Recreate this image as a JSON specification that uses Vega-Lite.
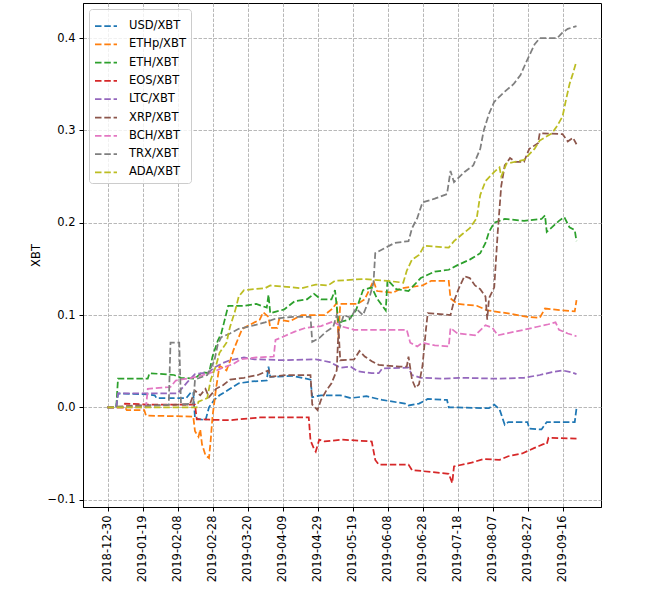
{
  "$schema": "https://vega.github.io/schema/vega-lite/v6.json",
  "autosize": "none",
  "padding": {"left": 83, "top": 3, "right": 66, "bottom": 83},
  "width": 518,
  "height": 504,
  "background": "white",
  "config": {
    "font": "DejaVu Sans",
    "view": {"stroke": "#000000", "strokeWidth": 1},
    "axis": {
      "domainColor": "#000000",
      "tickColor": "#000000",
      "tickSize": 4,
      "labelPadding": 4,
      "labelFontSize": 11.5,
      "labelColor": "#000000",
      "labelFont": "DejaVu Sans",
      "titleFont": "DejaVu Sans",
      "titleFontSize": 11.5,
      "titleFontWeight": "normal",
      "titleColor": "#000000",
      "gridColor": "#b0b0b0",
      "gridDash": [3.5, 1.5],
      "gridWidth": 0.9
    }
  },
  "data": {"values": [
    {"s":"USD/XBT","t":"2018-12-30","v":0},
    {"s":"USD/XBT","t":"2019-01-04","v":0},
    {"s":"USD/XBT","t":"2019-01-05","v":0.015},
    {"s":"USD/XBT","t":"2019-01-22","v":0.014},
    {"s":"USD/XBT","t":"2019-01-26","v":0.013},
    {"s":"USD/XBT","t":"2019-01-27","v":0.010},
    {"s":"USD/XBT","t":"2019-02-13","v":0.010},
    {"s":"USD/XBT","t":"2019-02-16","v":0.017},
    {"s":"USD/XBT","t":"2019-02-17","v":0.016},
    {"s":"USD/XBT","t":"2019-02-18","v":-0.012},
    {"s":"USD/XBT","t":"2019-02-24","v":-0.014},
    {"s":"USD/XBT","t":"2019-02-26","v":0.000},
    {"s":"USD/XBT","t":"2019-03-01","v":0.008},
    {"s":"USD/XBT","t":"2019-03-04","v":0.013},
    {"s":"USD/XBT","t":"2019-03-10","v":0.020},
    {"s":"USD/XBT","t":"2019-03-15","v":0.026},
    {"s":"USD/XBT","t":"2019-03-22","v":0.028},
    {"s":"USD/XBT","t":"2019-03-31","v":0.029},
    {"s":"USD/XBT","t":"2019-04-01","v":0.044},
    {"s":"USD/XBT","t":"2019-04-02","v":0.033},
    {"s":"USD/XBT","t":"2019-04-15","v":0.034},
    {"s":"USD/XBT","t":"2019-04-25","v":0.030},
    {"s":"USD/XBT","t":"2019-04-26","v":0.011},
    {"s":"USD/XBT","t":"2019-05-01","v":0.013},
    {"s":"USD/XBT","t":"2019-05-12","v":0.013},
    {"s":"USD/XBT","t":"2019-05-18","v":0.010},
    {"s":"USD/XBT","t":"2019-05-27","v":0.012},
    {"s":"USD/XBT","t":"2019-06-05","v":0.008},
    {"s":"USD/XBT","t":"2019-06-18","v":0.004},
    {"s":"USD/XBT","t":"2019-06-20","v":0.002},
    {"s":"USD/XBT","t":"2019-06-26","v":0.004},
    {"s":"USD/XBT","t":"2019-07-01","v":0.009},
    {"s":"USD/XBT","t":"2019-07-12","v":0.008},
    {"s":"USD/XBT","t":"2019-07-13","v":0.000},
    {"s":"USD/XBT","t":"2019-08-05","v":-0.001},
    {"s":"USD/XBT","t":"2019-08-08","v":0.003},
    {"s":"USD/XBT","t":"2019-08-11","v":-0.002},
    {"s":"USD/XBT","t":"2019-08-14","v":-0.019},
    {"s":"USD/XBT","t":"2019-08-16","v":-0.016},
    {"s":"USD/XBT","t":"2019-08-27","v":-0.016},
    {"s":"USD/XBT","t":"2019-08-28","v":-0.023},
    {"s":"USD/XBT","t":"2019-09-04","v":-0.024},
    {"s":"USD/XBT","t":"2019-09-07","v":-0.016},
    {"s":"USD/XBT","t":"2019-09-23","v":-0.016},
    {"s":"USD/XBT","t":"2019-09-24","v":-0.001},

    {"s":"ETHp/XBT","t":"2018-12-30","v":0},
    {"s":"ETHp/XBT","t":"2019-01-09","v":0},
    {"s":"ETHp/XBT","t":"2019-01-10","v":-0.003},
    {"s":"ETHp/XBT","t":"2019-01-20","v":-0.003},
    {"s":"ETHp/XBT","t":"2019-01-21","v":-0.009},
    {"s":"ETHp/XBT","t":"2019-02-17","v":-0.010},
    {"s":"ETHp/XBT","t":"2019-02-18","v":-0.026},
    {"s":"ETHp/XBT","t":"2019-02-20","v":-0.032},
    {"s":"ETHp/XBT","t":"2019-02-21","v":-0.024},
    {"s":"ETHp/XBT","t":"2019-02-22","v":-0.040},
    {"s":"ETHp/XBT","t":"2019-02-24","v":-0.052},
    {"s":"ETHp/XBT","t":"2019-02-26","v":-0.055},
    {"s":"ETHp/XBT","t":"2019-02-27","v":-0.035},
    {"s":"ETHp/XBT","t":"2019-02-28","v":-0.010},
    {"s":"ETHp/XBT","t":"2019-03-02","v":0.020},
    {"s":"ETHp/XBT","t":"2019-03-04","v":0.045},
    {"s":"ETHp/XBT","t":"2019-03-08","v":0.040},
    {"s":"ETHp/XBT","t":"2019-03-10","v":0.050},
    {"s":"ETHp/XBT","t":"2019-03-12","v":0.062},
    {"s":"ETHp/XBT","t":"2019-03-15","v":0.076},
    {"s":"ETHp/XBT","t":"2019-03-17","v":0.085},
    {"s":"ETHp/XBT","t":"2019-03-22","v":0.090},
    {"s":"ETHp/XBT","t":"2019-03-27","v":0.095},
    {"s":"ETHp/XBT","t":"2019-03-29","v":0.103},
    {"s":"ETHp/XBT","t":"2019-04-01","v":0.098},
    {"s":"ETHp/XBT","t":"2019-04-02","v":0.086},
    {"s":"ETHp/XBT","t":"2019-04-06","v":0.086},
    {"s":"ETHp/XBT","t":"2019-04-07","v":0.095},
    {"s":"ETHp/XBT","t":"2019-04-13","v":0.093},
    {"s":"ETHp/XBT","t":"2019-04-20","v":0.100},
    {"s":"ETHp/XBT","t":"2019-05-03","v":0.100},
    {"s":"ETHp/XBT","t":"2019-05-07","v":0.106},
    {"s":"ETHp/XBT","t":"2019-05-10","v":0.113},
    {"s":"ETHp/XBT","t":"2019-05-11","v":0.075},
    {"s":"ETHp/XBT","t":"2019-05-12","v":0.112},
    {"s":"ETHp/XBT","t":"2019-05-22","v":0.112},
    {"s":"ETHp/XBT","t":"2019-05-26","v":0.117},
    {"s":"ETHp/XBT","t":"2019-05-31","v":0.137},
    {"s":"ETHp/XBT","t":"2019-06-02","v":0.126},
    {"s":"ETHp/XBT","t":"2019-06-11","v":0.124},
    {"s":"ETHp/XBT","t":"2019-06-16","v":0.129},
    {"s":"ETHp/XBT","t":"2019-06-28","v":0.132},
    {"s":"ETHp/XBT","t":"2019-07-03","v":0.137},
    {"s":"ETHp/XBT","t":"2019-07-13","v":0.137},
    {"s":"ETHp/XBT","t":"2019-07-14","v":0.118},
    {"s":"ETHp/XBT","t":"2019-07-18","v":0.112},
    {"s":"ETHp/XBT","t":"2019-07-29","v":0.110},
    {"s":"ETHp/XBT","t":"2019-08-04","v":0.105},
    {"s":"ETHp/XBT","t":"2019-08-15","v":0.102},
    {"s":"ETHp/XBT","t":"2019-08-27","v":0.098},
    {"s":"ETHp/XBT","t":"2019-09-03","v":0.097},
    {"s":"ETHp/XBT","t":"2019-09-06","v":0.107},
    {"s":"ETHp/XBT","t":"2019-09-16","v":0.105},
    {"s":"ETHp/XBT","t":"2019-09-23","v":0.104},
    {"s":"ETHp/XBT","t":"2019-09-24","v":0.116},

    {"s":"ETH/XBT","t":"2018-12-30","v":0},
    {"s":"ETH/XBT","t":"2019-01-04","v":0},
    {"s":"ETH/XBT","t":"2019-01-05","v":0.031},
    {"s":"ETH/XBT","t":"2019-01-22","v":0.031},
    {"s":"ETH/XBT","t":"2019-01-23","v":0.037},
    {"s":"ETH/XBT","t":"2019-02-06","v":0.035},
    {"s":"ETH/XBT","t":"2019-02-10","v":0.032},
    {"s":"ETH/XBT","t":"2019-02-18","v":0.031},
    {"s":"ETH/XBT","t":"2019-02-22","v":0.038},
    {"s":"ETH/XBT","t":"2019-02-26","v":0.037},
    {"s":"ETH/XBT","t":"2019-02-28","v":0.055},
    {"s":"ETH/XBT","t":"2019-03-03","v":0.072},
    {"s":"ETH/XBT","t":"2019-03-05","v":0.080},
    {"s":"ETH/XBT","t":"2019-03-07","v":0.095},
    {"s":"ETH/XBT","t":"2019-03-09","v":0.110},
    {"s":"ETH/XBT","t":"2019-03-18","v":0.110},
    {"s":"ETH/XBT","t":"2019-03-25","v":0.112},
    {"s":"ETH/XBT","t":"2019-03-31","v":0.108},
    {"s":"ETH/XBT","t":"2019-04-01","v":0.122},
    {"s":"ETH/XBT","t":"2019-04-02","v":0.102},
    {"s":"ETH/XBT","t":"2019-04-10","v":0.106},
    {"s":"ETH/XBT","t":"2019-04-16","v":0.115},
    {"s":"ETH/XBT","t":"2019-04-23","v":0.117},
    {"s":"ETH/XBT","t":"2019-04-27","v":0.123},
    {"s":"ETH/XBT","t":"2019-05-01","v":0.117},
    {"s":"ETH/XBT","t":"2019-05-07","v":0.117},
    {"s":"ETH/XBT","t":"2019-05-09","v":0.127},
    {"s":"ETH/XBT","t":"2019-05-11","v":0.091},
    {"s":"ETH/XBT","t":"2019-05-13","v":0.093},
    {"s":"ETH/XBT","t":"2019-05-17","v":0.095},
    {"s":"ETH/XBT","t":"2019-05-21","v":0.105},
    {"s":"ETH/XBT","t":"2019-05-25","v":0.127},
    {"s":"ETH/XBT","t":"2019-05-30","v":0.130},
    {"s":"ETH/XBT","t":"2019-06-02","v":0.118},
    {"s":"ETH/XBT","t":"2019-06-07","v":0.105},
    {"s":"ETH/XBT","t":"2019-06-08","v":0.138},
    {"s":"ETH/XBT","t":"2019-06-13","v":0.128},
    {"s":"ETH/XBT","t":"2019-06-20","v":0.126},
    {"s":"ETH/XBT","t":"2019-06-27","v":0.140},
    {"s":"ETH/XBT","t":"2019-07-05","v":0.147},
    {"s":"ETH/XBT","t":"2019-07-13","v":0.149},
    {"s":"ETH/XBT","t":"2019-07-18","v":0.154},
    {"s":"ETH/XBT","t":"2019-07-25","v":0.160},
    {"s":"ETH/XBT","t":"2019-07-31","v":0.167},
    {"s":"ETH/XBT","t":"2019-08-03","v":0.178},
    {"s":"ETH/XBT","t":"2019-08-05","v":0.190},
    {"s":"ETH/XBT","t":"2019-08-08","v":0.200},
    {"s":"ETH/XBT","t":"2019-08-14","v":0.204},
    {"s":"ETH/XBT","t":"2019-08-25","v":0.202},
    {"s":"ETH/XBT","t":"2019-09-04","v":0.204},
    {"s":"ETH/XBT","t":"2019-09-06","v":0.208},
    {"s":"ETH/XBT","t":"2019-09-07","v":0.190},
    {"s":"ETH/XBT","t":"2019-09-14","v":0.202},
    {"s":"ETH/XBT","t":"2019-09-17","v":0.206},
    {"s":"ETH/XBT","t":"2019-09-20","v":0.195},
    {"s":"ETH/XBT","t":"2019-09-23","v":0.192},
    {"s":"ETH/XBT","t":"2019-09-24","v":0.180},

    {"s":"EOS/XBT","t":"2018-12-30","v":0},
    {"s":"EOS/XBT","t":"2019-01-08","v":0},
    {"s":"EOS/XBT","t":"2019-01-09","v":0.004},
    {"s":"EOS/XBT","t":"2019-01-23","v":0.003},
    {"s":"EOS/XBT","t":"2019-02-18","v":0.003},
    {"s":"EOS/XBT","t":"2019-02-19","v":-0.013},
    {"s":"EOS/XBT","t":"2019-03-10","v":-0.014},
    {"s":"EOS/XBT","t":"2019-03-27","v":-0.011},
    {"s":"EOS/XBT","t":"2019-04-24","v":-0.011},
    {"s":"EOS/XBT","t":"2019-04-25","v":-0.036},
    {"s":"EOS/XBT","t":"2019-04-27","v":-0.045},
    {"s":"EOS/XBT","t":"2019-04-28","v":-0.048},
    {"s":"EOS/XBT","t":"2019-04-30","v":-0.035},
    {"s":"EOS/XBT","t":"2019-05-03","v":-0.037},
    {"s":"EOS/XBT","t":"2019-05-13","v":-0.035},
    {"s":"EOS/XBT","t":"2019-05-30","v":-0.037},
    {"s":"EOS/XBT","t":"2019-06-01","v":-0.057},
    {"s":"EOS/XBT","t":"2019-06-03","v":-0.062},
    {"s":"EOS/XBT","t":"2019-06-20","v":-0.062},
    {"s":"EOS/XBT","t":"2019-06-22","v":-0.068},
    {"s":"EOS/XBT","t":"2019-07-08","v":-0.071},
    {"s":"EOS/XBT","t":"2019-07-13","v":-0.072},
    {"s":"EOS/XBT","t":"2019-07-15","v":-0.082},
    {"s":"EOS/XBT","t":"2019-07-16","v":-0.064},
    {"s":"EOS/XBT","t":"2019-07-26","v":-0.060},
    {"s":"EOS/XBT","t":"2019-08-02","v":-0.056},
    {"s":"EOS/XBT","t":"2019-08-11","v":-0.057},
    {"s":"EOS/XBT","t":"2019-08-16","v":-0.053},
    {"s":"EOS/XBT","t":"2019-08-24","v":-0.050},
    {"s":"EOS/XBT","t":"2019-08-31","v":-0.044},
    {"s":"EOS/XBT","t":"2019-09-05","v":-0.040},
    {"s":"EOS/XBT","t":"2019-09-07","v":-0.040},
    {"s":"EOS/XBT","t":"2019-09-08","v":-0.033},
    {"s":"EOS/XBT","t":"2019-09-24","v":-0.034},

    {"s":"LTC/XBT","t":"2018-12-30","v":0},
    {"s":"LTC/XBT","t":"2019-01-04","v":0},
    {"s":"LTC/XBT","t":"2019-01-05","v":0.015},
    {"s":"LTC/XBT","t":"2019-02-08","v":0.015},
    {"s":"LTC/XBT","t":"2019-02-14","v":0.028},
    {"s":"LTC/XBT","t":"2019-02-18","v":0.036},
    {"s":"LTC/XBT","t":"2019-02-26","v":0.038},
    {"s":"LTC/XBT","t":"2019-03-01","v":0.043},
    {"s":"LTC/XBT","t":"2019-03-06","v":0.048},
    {"s":"LTC/XBT","t":"2019-03-10","v":0.051},
    {"s":"LTC/XBT","t":"2019-03-18","v":0.054},
    {"s":"LTC/XBT","t":"2019-03-24","v":0.052},
    {"s":"LTC/XBT","t":"2019-04-10","v":0.051},
    {"s":"LTC/XBT","t":"2019-04-28","v":0.052},
    {"s":"LTC/XBT","t":"2019-05-06","v":0.049},
    {"s":"LTC/XBT","t":"2019-05-12","v":0.043},
    {"s":"LTC/XBT","t":"2019-05-18","v":0.044},
    {"s":"LTC/XBT","t":"2019-05-22","v":0.039},
    {"s":"LTC/XBT","t":"2019-05-30","v":0.037},
    {"s":"LTC/XBT","t":"2019-06-03","v":0.037},
    {"s":"LTC/XBT","t":"2019-06-05","v":0.042},
    {"s":"LTC/XBT","t":"2019-06-20","v":0.043},
    {"s":"LTC/XBT","t":"2019-06-22","v":0.035},
    {"s":"LTC/XBT","t":"2019-06-27","v":0.032},
    {"s":"LTC/XBT","t":"2019-07-10","v":0.031},
    {"s":"LTC/XBT","t":"2019-07-20","v":0.032},
    {"s":"LTC/XBT","t":"2019-08-10","v":0.031},
    {"s":"LTC/XBT","t":"2019-08-25","v":0.032},
    {"s":"LTC/XBT","t":"2019-09-03","v":0.035},
    {"s":"LTC/XBT","t":"2019-09-10","v":0.038},
    {"s":"LTC/XBT","t":"2019-09-16","v":0.040},
    {"s":"LTC/XBT","t":"2019-09-21","v":0.038},
    {"s":"LTC/XBT","t":"2019-09-24","v":0.036},

    {"s":"XRP/XBT","t":"2018-12-30","v":0},
    {"s":"XRP/XBT","t":"2019-01-15","v":0.002},
    {"s":"XRP/XBT","t":"2019-02-15","v":0.003},
    {"s":"XRP/XBT","t":"2019-02-18","v":0.018},
    {"s":"XRP/XBT","t":"2019-02-21","v":0.013},
    {"s":"XRP/XBT","t":"2019-02-24","v":0.020},
    {"s":"XRP/XBT","t":"2019-02-26","v":0.011},
    {"s":"XRP/XBT","t":"2019-03-02","v":0.020},
    {"s":"XRP/XBT","t":"2019-03-06","v":0.024},
    {"s":"XRP/XBT","t":"2019-03-10","v":0.030},
    {"s":"XRP/XBT","t":"2019-03-18","v":0.032},
    {"s":"XRP/XBT","t":"2019-03-26","v":0.035},
    {"s":"XRP/XBT","t":"2019-04-01","v":0.040},
    {"s":"XRP/XBT","t":"2019-04-02","v":0.033},
    {"s":"XRP/XBT","t":"2019-04-12","v":0.035},
    {"s":"XRP/XBT","t":"2019-04-25","v":0.035},
    {"s":"XRP/XBT","t":"2019-04-26","v":0.003},
    {"s":"XRP/XBT","t":"2019-04-29","v":-0.003},
    {"s":"XRP/XBT","t":"2019-05-01","v":0.008},
    {"s":"XRP/XBT","t":"2019-05-04","v":0.018},
    {"s":"XRP/XBT","t":"2019-05-07","v":0.026},
    {"s":"XRP/XBT","t":"2019-05-10","v":0.040},
    {"s":"XRP/XBT","t":"2019-05-11","v":0.085},
    {"s":"XRP/XBT","t":"2019-05-12","v":0.051},
    {"s":"XRP/XBT","t":"2019-05-20","v":0.052},
    {"s":"XRP/XBT","t":"2019-05-23","v":0.061},
    {"s":"XRP/XBT","t":"2019-05-26","v":0.055},
    {"s":"XRP/XBT","t":"2019-05-30","v":0.050},
    {"s":"XRP/XBT","t":"2019-06-03","v":0.046},
    {"s":"XRP/XBT","t":"2019-06-15","v":0.044},
    {"s":"XRP/XBT","t":"2019-06-19","v":0.044},
    {"s":"XRP/XBT","t":"2019-06-20","v":0.055},
    {"s":"XRP/XBT","t":"2019-06-22","v":0.030},
    {"s":"XRP/XBT","t":"2019-06-24","v":0.021},
    {"s":"XRP/XBT","t":"2019-06-26","v":0.025},
    {"s":"XRP/XBT","t":"2019-06-28","v":0.045},
    {"s":"XRP/XBT","t":"2019-06-30","v":0.085},
    {"s":"XRP/XBT","t":"2019-07-01","v":0.102},
    {"s":"XRP/XBT","t":"2019-07-14","v":0.100},
    {"s":"XRP/XBT","t":"2019-07-16","v":0.115},
    {"s":"XRP/XBT","t":"2019-07-19","v":0.130},
    {"s":"XRP/XBT","t":"2019-07-22","v":0.142},
    {"s":"XRP/XBT","t":"2019-07-25","v":0.140},
    {"s":"XRP/XBT","t":"2019-07-28","v":0.132},
    {"s":"XRP/XBT","t":"2019-07-31","v":0.128},
    {"s":"XRP/XBT","t":"2019-08-03","v":0.120},
    {"s":"XRP/XBT","t":"2019-08-04","v":0.095},
    {"s":"XRP/XBT","t":"2019-08-05","v":0.118},
    {"s":"XRP/XBT","t":"2019-08-08","v":0.130},
    {"s":"XRP/XBT","t":"2019-08-10","v":0.190},
    {"s":"XRP/XBT","t":"2019-08-12","v":0.240},
    {"s":"XRP/XBT","t":"2019-08-14","v":0.262},
    {"s":"XRP/XBT","t":"2019-08-17","v":0.270},
    {"s":"XRP/XBT","t":"2019-08-20","v":0.266},
    {"s":"XRP/XBT","t":"2019-08-25","v":0.266},
    {"s":"XRP/XBT","t":"2019-08-28","v":0.280},
    {"s":"XRP/XBT","t":"2019-09-02","v":0.286},
    {"s":"XRP/XBT","t":"2019-09-03","v":0.297},
    {"s":"XRP/XBT","t":"2019-09-16","v":0.296},
    {"s":"XRP/XBT","t":"2019-09-19","v":0.288},
    {"s":"XRP/XBT","t":"2019-09-22","v":0.292},
    {"s":"XRP/XBT","t":"2019-09-24","v":0.285},

    {"s":"BCH/XBT","t":"2018-12-30","v":0},
    {"s":"BCH/XBT","t":"2019-01-21","v":0.000},
    {"s":"BCH/XBT","t":"2019-01-22","v":0.020},
    {"s":"BCH/XBT","t":"2019-02-04","v":0.022},
    {"s":"BCH/XBT","t":"2019-02-07","v":0.029},
    {"s":"BCH/XBT","t":"2019-02-16","v":0.032},
    {"s":"BCH/XBT","t":"2019-02-21","v":0.034},
    {"s":"BCH/XBT","t":"2019-02-28","v":0.038},
    {"s":"BCH/XBT","t":"2019-03-06","v":0.043},
    {"s":"BCH/XBT","t":"2019-03-12","v":0.047},
    {"s":"BCH/XBT","t":"2019-03-16","v":0.052},
    {"s":"BCH/XBT","t":"2019-03-25","v":0.054},
    {"s":"BCH/XBT","t":"2019-04-04","v":0.055},
    {"s":"BCH/XBT","t":"2019-04-05","v":0.073},
    {"s":"BCH/XBT","t":"2019-04-10","v":0.077},
    {"s":"BCH/XBT","t":"2019-04-16","v":0.082},
    {"s":"BCH/XBT","t":"2019-04-22","v":0.086},
    {"s":"BCH/XBT","t":"2019-05-01","v":0.088},
    {"s":"BCH/XBT","t":"2019-05-08","v":0.093},
    {"s":"BCH/XBT","t":"2019-05-12","v":0.088},
    {"s":"BCH/XBT","t":"2019-05-20","v":0.084},
    {"s":"BCH/XBT","t":"2019-06-19","v":0.084},
    {"s":"BCH/XBT","t":"2019-06-21","v":0.070},
    {"s":"BCH/XBT","t":"2019-06-25","v":0.066},
    {"s":"BCH/XBT","t":"2019-06-28","v":0.070},
    {"s":"BCH/XBT","t":"2019-07-05","v":0.067},
    {"s":"BCH/XBT","t":"2019-07-13","v":0.066},
    {"s":"BCH/XBT","t":"2019-07-14","v":0.086},
    {"s":"BCH/XBT","t":"2019-07-18","v":0.080},
    {"s":"BCH/XBT","t":"2019-07-28","v":0.078},
    {"s":"BCH/XBT","t":"2019-08-03","v":0.089},
    {"s":"BCH/XBT","t":"2019-08-07","v":0.086},
    {"s":"BCH/XBT","t":"2019-08-10","v":0.078},
    {"s":"BCH/XBT","t":"2019-08-15","v":0.080},
    {"s":"BCH/XBT","t":"2019-08-25","v":0.084},
    {"s":"BCH/XBT","t":"2019-09-01","v":0.087},
    {"s":"BCH/XBT","t":"2019-09-08","v":0.090},
    {"s":"BCH/XBT","t":"2019-09-12","v":0.092},
    {"s":"BCH/XBT","t":"2019-09-14","v":0.084},
    {"s":"BCH/XBT","t":"2019-09-19","v":0.080},
    {"s":"BCH/XBT","t":"2019-09-24","v":0.077},

    {"s":"TRX/XBT","t":"2018-12-30","v":0},
    {"s":"TRX/XBT","t":"2019-01-29","v":0.002},
    {"s":"TRX/XBT","t":"2019-02-03","v":0.003},
    {"s":"TRX/XBT","t":"2019-02-04","v":0.070},
    {"s":"TRX/XBT","t":"2019-02-09","v":0.070},
    {"s":"TRX/XBT","t":"2019-02-10","v":0.003},
    {"s":"TRX/XBT","t":"2019-02-17","v":0.004},
    {"s":"TRX/XBT","t":"2019-02-18","v":0.030},
    {"s":"TRX/XBT","t":"2019-02-25","v":0.035},
    {"s":"TRX/XBT","t":"2019-03-01","v":0.050},
    {"s":"TRX/XBT","t":"2019-03-03","v":0.068},
    {"s":"TRX/XBT","t":"2019-03-05","v":0.076},
    {"s":"TRX/XBT","t":"2019-03-10","v":0.080},
    {"s":"TRX/XBT","t":"2019-03-15","v":0.085},
    {"s":"TRX/XBT","t":"2019-03-22","v":0.088},
    {"s":"TRX/XBT","t":"2019-03-30","v":0.092},
    {"s":"TRX/XBT","t":"2019-04-05","v":0.096},
    {"s":"TRX/XBT","t":"2019-04-15","v":0.098},
    {"s":"TRX/XBT","t":"2019-04-25","v":0.098},
    {"s":"TRX/XBT","t":"2019-04-26","v":0.071},
    {"s":"TRX/XBT","t":"2019-04-30","v":0.075},
    {"s":"TRX/XBT","t":"2019-05-04","v":0.082},
    {"s":"TRX/XBT","t":"2019-05-08","v":0.087},
    {"s":"TRX/XBT","t":"2019-05-10","v":0.100},
    {"s":"TRX/XBT","t":"2019-05-12","v":0.088},
    {"s":"TRX/XBT","t":"2019-05-14","v":0.100},
    {"s":"TRX/XBT","t":"2019-05-18","v":0.097},
    {"s":"TRX/XBT","t":"2019-05-21","v":0.107},
    {"s":"TRX/XBT","t":"2019-05-25","v":0.100},
    {"s":"TRX/XBT","t":"2019-05-28","v":0.114},
    {"s":"TRX/XBT","t":"2019-05-31","v":0.135},
    {"s":"TRX/XBT","t":"2019-06-01","v":0.167},
    {"s":"TRX/XBT","t":"2019-06-06","v":0.172},
    {"s":"TRX/XBT","t":"2019-06-12","v":0.178},
    {"s":"TRX/XBT","t":"2019-06-20","v":0.180},
    {"s":"TRX/XBT","t":"2019-06-22","v":0.194},
    {"s":"TRX/XBT","t":"2019-06-25","v":0.205},
    {"s":"TRX/XBT","t":"2019-06-28","v":0.222},
    {"s":"TRX/XBT","t":"2019-07-05","v":0.226},
    {"s":"TRX/XBT","t":"2019-07-12","v":0.231},
    {"s":"TRX/XBT","t":"2019-07-14","v":0.256},
    {"s":"TRX/XBT","t":"2019-07-16","v":0.244},
    {"s":"TRX/XBT","t":"2019-07-22","v":0.255},
    {"s":"TRX/XBT","t":"2019-07-27","v":0.262},
    {"s":"TRX/XBT","t":"2019-07-31","v":0.280},
    {"s":"TRX/XBT","t":"2019-08-02","v":0.300},
    {"s":"TRX/XBT","t":"2019-08-05","v":0.318},
    {"s":"TRX/XBT","t":"2019-08-08","v":0.331},
    {"s":"TRX/XBT","t":"2019-08-14","v":0.342},
    {"s":"TRX/XBT","t":"2019-08-19","v":0.350},
    {"s":"TRX/XBT","t":"2019-08-23","v":0.360},
    {"s":"TRX/XBT","t":"2019-08-27","v":0.377},
    {"s":"TRX/XBT","t":"2019-08-31","v":0.393},
    {"s":"TRX/XBT","t":"2019-09-03","v":0.400},
    {"s":"TRX/XBT","t":"2019-09-13","v":0.400},
    {"s":"TRX/XBT","t":"2019-09-16","v":0.406},
    {"s":"TRX/XBT","t":"2019-09-19","v":0.410},
    {"s":"TRX/XBT","t":"2019-09-24","v":0.413},

    {"s":"ADA/XBT","t":"2018-12-30","v":0},
    {"s":"ADA/XBT","t":"2019-02-19","v":0.000},
    {"s":"ADA/XBT","t":"2019-02-20","v":0.006},
    {"s":"ADA/XBT","t":"2019-02-25","v":0.010},
    {"s":"ADA/XBT","t":"2019-02-27","v":0.030},
    {"s":"ADA/XBT","t":"2019-03-02","v":0.045},
    {"s":"ADA/XBT","t":"2019-03-04","v":0.059},
    {"s":"ADA/XBT","t":"2019-03-08","v":0.070},
    {"s":"ADA/XBT","t":"2019-03-10","v":0.087},
    {"s":"ADA/XBT","t":"2019-03-13","v":0.105},
    {"s":"ADA/XBT","t":"2019-03-15","v":0.120},
    {"s":"ADA/XBT","t":"2019-03-18","v":0.127},
    {"s":"ADA/XBT","t":"2019-03-30","v":0.129},
    {"s":"ADA/XBT","t":"2019-04-02","v":0.132},
    {"s":"ADA/XBT","t":"2019-04-20","v":0.129},
    {"s":"ADA/XBT","t":"2019-04-28","v":0.133},
    {"s":"ADA/XBT","t":"2019-05-05","v":0.132},
    {"s":"ADA/XBT","t":"2019-05-09","v":0.137},
    {"s":"ADA/XBT","t":"2019-05-25","v":0.139},
    {"s":"ADA/XBT","t":"2019-06-08","v":0.137},
    {"s":"ADA/XBT","t":"2019-06-17","v":0.135},
    {"s":"ADA/XBT","t":"2019-06-19","v":0.148},
    {"s":"ADA/XBT","t":"2019-06-22","v":0.160},
    {"s":"ADA/XBT","t":"2019-06-26","v":0.165},
    {"s":"ADA/XBT","t":"2019-06-29","v":0.175},
    {"s":"ADA/XBT","t":"2019-07-13","v":0.173},
    {"s":"ADA/XBT","t":"2019-07-16","v":0.180},
    {"s":"ADA/XBT","t":"2019-07-21","v":0.188},
    {"s":"ADA/XBT","t":"2019-07-25","v":0.194},
    {"s":"ADA/XBT","t":"2019-07-29","v":0.205},
    {"s":"ADA/XBT","t":"2019-07-31","v":0.230},
    {"s":"ADA/XBT","t":"2019-08-03","v":0.245},
    {"s":"ADA/XBT","t":"2019-08-08","v":0.255},
    {"s":"ADA/XBT","t":"2019-08-11","v":0.260},
    {"s":"ADA/XBT","t":"2019-08-12","v":0.250},
    {"s":"ADA/XBT","t":"2019-08-15","v":0.264},
    {"s":"ADA/XBT","t":"2019-08-25","v":0.268},
    {"s":"ADA/XBT","t":"2019-08-31","v":0.280},
    {"s":"ADA/XBT","t":"2019-09-03","v":0.289},
    {"s":"ADA/XBT","t":"2019-09-10","v":0.297},
    {"s":"ADA/XBT","t":"2019-09-13","v":0.305},
    {"s":"ADA/XBT","t":"2019-09-16","v":0.315},
    {"s":"ADA/XBT","t":"2019-09-18","v":0.333},
    {"s":"ADA/XBT","t":"2019-09-20","v":0.350},
    {"s":"ADA/XBT","t":"2019-09-22","v":0.362},
    {"s":"ADA/XBT","t":"2019-09-24","v":0.375}
  ]},
  "mark": {"type": "line", "interpolate": "linear", "strokeWidth": 1.75, "strokeDash": [6.5, 2.8], "clip": true},
  "encoding": {
    "x": {
      "field": "t", "type": "temporal",
      "scale": {"type": "utc", "domain": ["2018-12-16", "2019-10-08"], "nice": false},
      "axis": {
        "title": null,
        "values": ["2018-12-30","2019-01-19","2019-02-08","2019-02-28","2019-03-20","2019-04-09","2019-04-29","2019-05-19","2019-06-08","2019-06-28","2019-07-18","2019-08-07","2019-08-27","2019-09-16"],
        "labelExpr": "utcFormat(datum.value, '%Y-%m-%d')",
        "labelAngle": -90,
        "labelOverlap": false,
        "grid": true
      }
    },
    "y": {
      "field": "v", "type": "quantitative",
      "scale": {"domain": [-0.108, 0.438], "nice": false, "zero": false},
      "axis": {
        "title": "XBT",
        "titlePadding": 6,
        "values": [-0.1, 0, 0.1, 0.2, 0.3, 0.4],
        "format": ".1f",
        "grid": true
      }
    },
    "color": {
      "field": "s", "type": "nominal",
      "scale": {
        "domain": ["USD/XBT","ETHp/XBT","ETH/XBT","EOS/XBT","LTC/XBT","XRP/XBT","BCH/XBT","TRX/XBT","ADA/XBT"],
        "range": ["#1f77b4","#ff7f0e","#2ca02c","#d62728","#9467bd","#8c564b","#e377c2","#7f7f7f","#bcbd22"]
      },
      "legend": {
        "title": null,
        "orient": "none",
        "legendX": 6,
        "legendY": 6,
        "symbolType": "stroke",
        "symbolSize": 484,
        "symbolStrokeWidth": 1.75,
        "symbolDash": [6.5, 2.8],
        "labelFontSize": 11.5,
        "labelFont": "DejaVu Sans",
        "labelColor": "#000000",
        "labelOffset": 11,
        "rowPadding": 0.3,
        "padding": 5,
        "fillColor": "rgba(255,255,255,0.8)",
        "strokeColor": "#cccccc",
        "cornerRadius": 3
      }
    }
  }
}
